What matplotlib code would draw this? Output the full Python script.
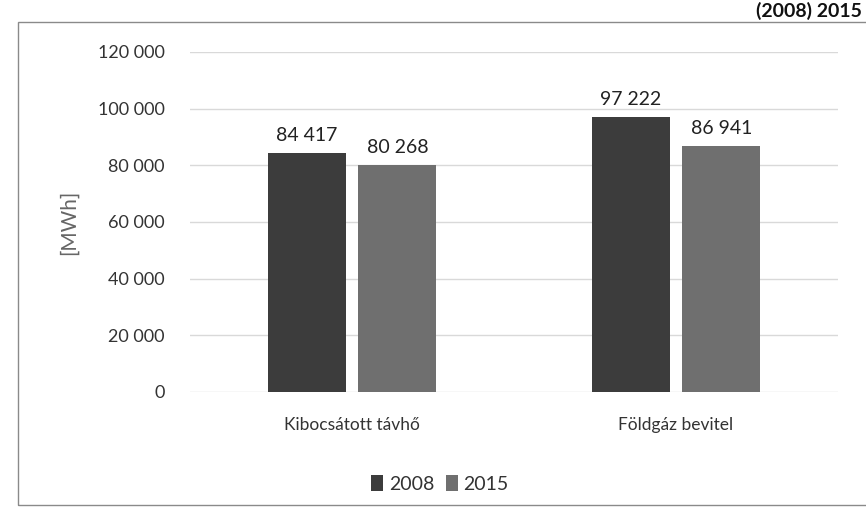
import matplotlib
matplotlib.use("Agg")
import matplotlib.pyplot as plt
from matplotlib.patches import Rectangle
import numpy as np

plt.rcParams['font.family'] = ['Lato', 'DejaVu Sans']

categories = ["Kibocsátott távhő", "Földgáz bevitel"]
series_names = ["2008", "2015"]
values_2008 = [84417, 97222]
values_2015 = [80268, 86941]
yticks = [0, 20000, 40000, 60000, 80000, 100000, 120000]
ytick_labels = ["0", "20 000", "40 000", "60 000", "80 000", "100 000", "120 000"]
title_text = "(2008) 2015"

colors = ["#3c3c3c", "#6f6f6f"]

W, H = 866, 530
fig = plt.figure(figsize=(W / 100, H / 100), dpi=100)
fig.patch.set_facecolor("white")

# chart border
fig.patches.append(Rectangle((18 / W, 1 - 505 / H), 1.2, (505 - 22) / H,
                             transform=fig.transFigure, fill=False,
                             edgecolor="#8a8a8a", linewidth=1.0))

ax = fig.add_axes([190 / W, 1 - 392 / H, (838 - 190) / W, (392 - 52) / H])
x = np.arange(len(categories)) + 0.5
bw = 0.24
off = 0.14

def fmt(v):
    return f"{v:,}".replace(",", " ")

b1 = ax.bar(x - off, values_2008, bw, color=colors[0], label=series_names[0], zorder=3)
b2 = ax.bar(x + off, values_2015, bw, color=colors[1], label=series_names[1], zorder=3)
for bars in (b1, b2):
    for r in bars:
        ax.annotate(fmt(int(r.get_height())), (r.get_x() + r.get_width() / 2, r.get_height()),
                    xytext=(0, 6), textcoords="offset points", ha="center", va="bottom",
                    fontsize=14, color="#222222")

ax.set_xlim(0, 2)
ax.set_ylim(0, 120000)
ax.set_yticks(yticks)
ax.set_yticklabels(ytick_labels, fontsize=13, color="#333333")
ax.set_xticks(x)
ax.set_xticklabels(categories, fontsize=12.5, color="#333333")
ax.tick_params(axis="both", length=0)
ax.tick_params(axis="y", pad=18)
ax.tick_params(axis="x", pad=18)
ax.grid(axis="y", color="#d9d9d9", linewidth=1.0, zorder=0)
for s in ax.spines.values():
    s.set_visible(False)
ax.set_ylabel("[MWh]", fontsize=15, color="#666666", labelpad=14)

leg = fig.legend(handles=[b1, b2], labels=series_names, loc="center",
                 bbox_to_anchor=(440 / W, 1 - 484 / H), ncol=2, frameon=False,
                 fontsize=14, handlelength=0.6, handleheight=0.9, handletextpad=0.3,
                 columnspacing=0.6)
for t in leg.get_texts():
    t.set_color("#333333")

fig.text(862 / W, 1 - 17 / H, title_text, ha="right", va="baseline",
         fontsize=14, fontweight="bold", color="#111111")

fig.savefig("out.png", dpi=100)
